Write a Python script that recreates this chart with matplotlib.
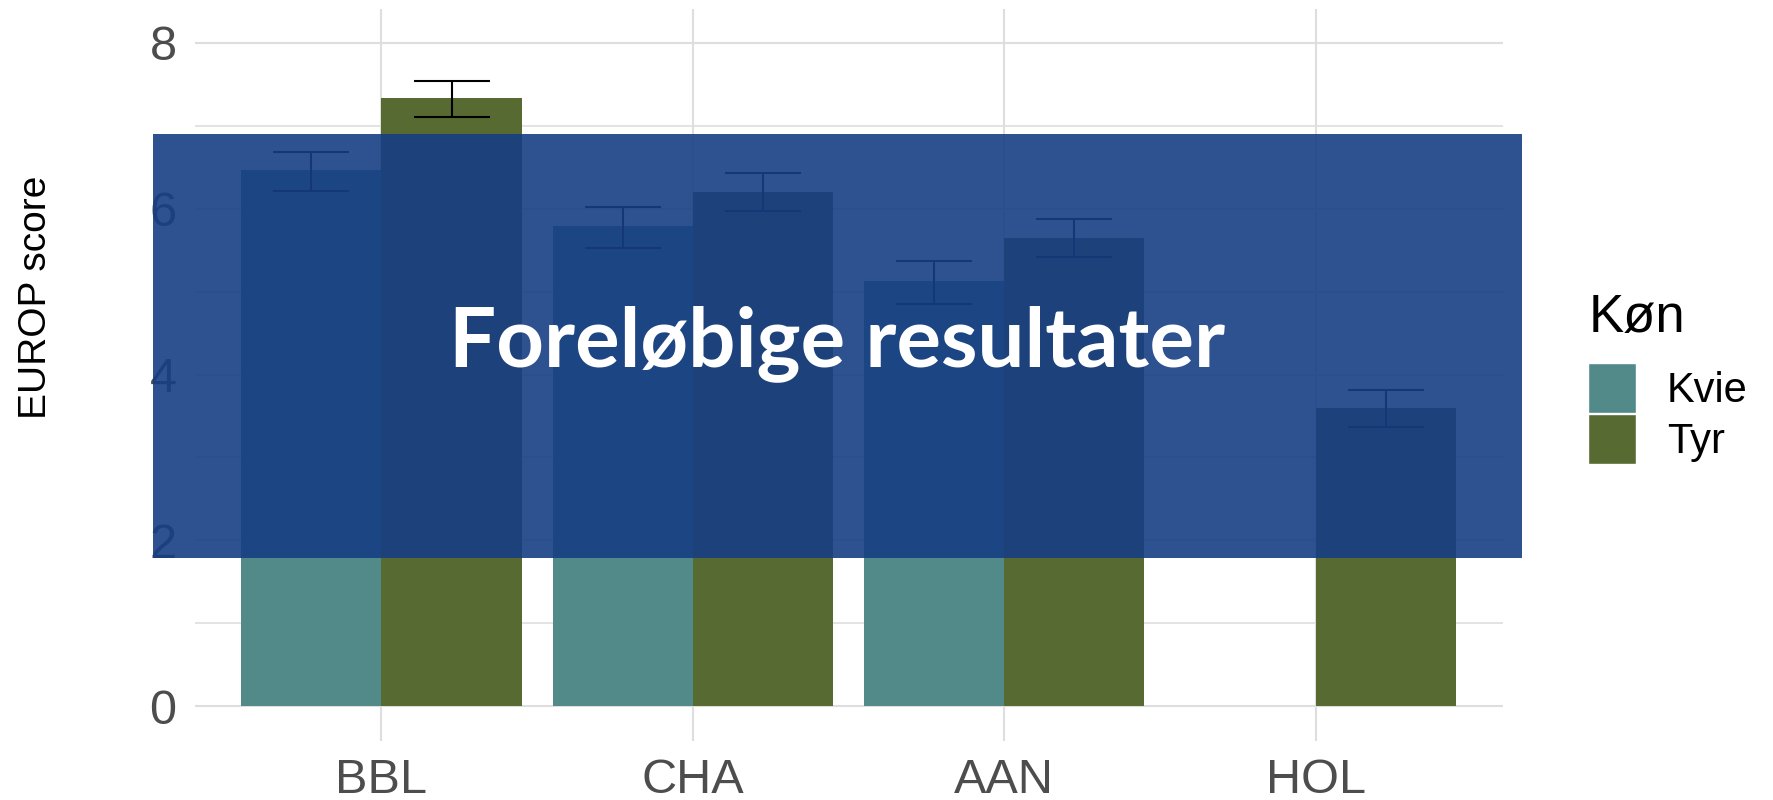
import numpy as np
import matplotlib
matplotlib.use("Agg")
import matplotlib.pyplot as plt
from matplotlib.patches import Rectangle, Patch

# data
racer = ["BBL", "CHA", "AAN", "HOL"]
kvie_mean = [6.47, 5.79, 5.13, np.nan]
kvie_lo = [6.21, 5.53, 4.85, np.nan]
kvie_hi = [6.68, 6.02, 5.37, np.nan]
tyr_mean = [7.33, 6.20, 5.65, 3.60]
tyr_lo = [7.11, 5.97, 5.42, 3.37]
tyr_hi = [7.54, 6.43, 5.88, 3.81]

col_kvie = "#528A8A"
col_tyr = "#576A32"
grid_col = "#DEDEDE"
tick_col = "#4D4D4D"

plt.rcParams['font.family'] = ['Liberation Sans', 'DejaVu Sans']

fig = plt.figure(figsize=(17.74, 8), dpi=100)
ax = fig.add_axes([0.1097, 0.0738, 0.8470 - 0.1097, 0.9888 - 0.0738])

x = np.arange(len(racer))
w = 0.45
for off, mean, lo, hi, c in [(-w / 2, kvie_mean, kvie_lo, kvie_hi, col_kvie),
                             (w / 2, tyr_mean, tyr_lo, tyr_hi, col_tyr)]:
    mean = np.array(mean); lo = np.array(lo); hi = np.array(hi)
    ax.bar(x + off, mean, width=w, color=c, zorder=2)
    ok = ~np.isnan(mean)
    ax.errorbar(x[ok] + off, mean[ok], yerr=[mean[ok] - lo[ok], hi[ok] - mean[ok]],
                fmt='none', ecolor='black', elinewidth=1.5, capsize=27.4,
                capthick=1.5, zorder=3)

ax.set_xlim(-0.6, 3.6)
ax.set_ylim(-0.42, 8.41)
ax.set_xticks(x)
ax.set_xticklabels(racer)
ax.set_yticks([0, 2, 4, 6, 8])
ax.set_yticks([1, 3, 5, 7], minor=True)
ax.grid(True, which='major', color=grid_col, linewidth=1.5, zorder=0)
ax.grid(True, which='minor', axis='y', color=grid_col, linewidth=1.2, zorder=0)
ax.set_axisbelow(True)
for s in ax.spines.values():
    s.set_visible(False)
ax.tick_params(axis='both', which='both', length=0, colors=tick_col)
ax.tick_params(axis='x', labelsize=35, pad=12)
ax.tick_params(axis='y', labelsize=35, pad=13)
ax.set_ylabel("EUROP score", fontsize=28)
ax.yaxis.set_label_coords(-0.1075, 0.6066)

# legend
fig.text(0.8957, 0.5854, "Køn", fontsize=38, ha='left', va='baseline')
handles = [Patch(facecolor=col_kvie, edgecolor='white', linewidth=1),
           Patch(facecolor=col_tyr, edgecolor='white', linewidth=1)]
fig.legend(handles, ["Kvie", "Tyr"], loc='upper left', bbox_to_anchor=(0.8952, 0.5466),
           frameon=False, fontsize=30, handlelength=1.15, handleheight=1.47,
           handletextpad=0.74, labelspacing=0.03, borderpad=0, borderaxespad=0)

# "preliminary results" overlay banner
x0, x1, y0, y1 = 0.0861, 0.8578, 0.3028, 0.8325
fig.add_artist(Rectangle((x0, y0), x1 - x0, y1 - y0, transform=fig.transFigure,
                         facecolor=(23 / 255, 62 / 255, 132 / 255), alpha=0.9,
                         edgecolor='none', zorder=10))
fig.text((x0 + x1) / 2, 0.542, "Foreløbige resultater", color='white',
         fontsize=60, fontweight='bold', family=['Lato', 'DejaVu Sans'],
         ha='center', va='baseline', zorder=11)

fig.savefig("out.png", dpi=100)
